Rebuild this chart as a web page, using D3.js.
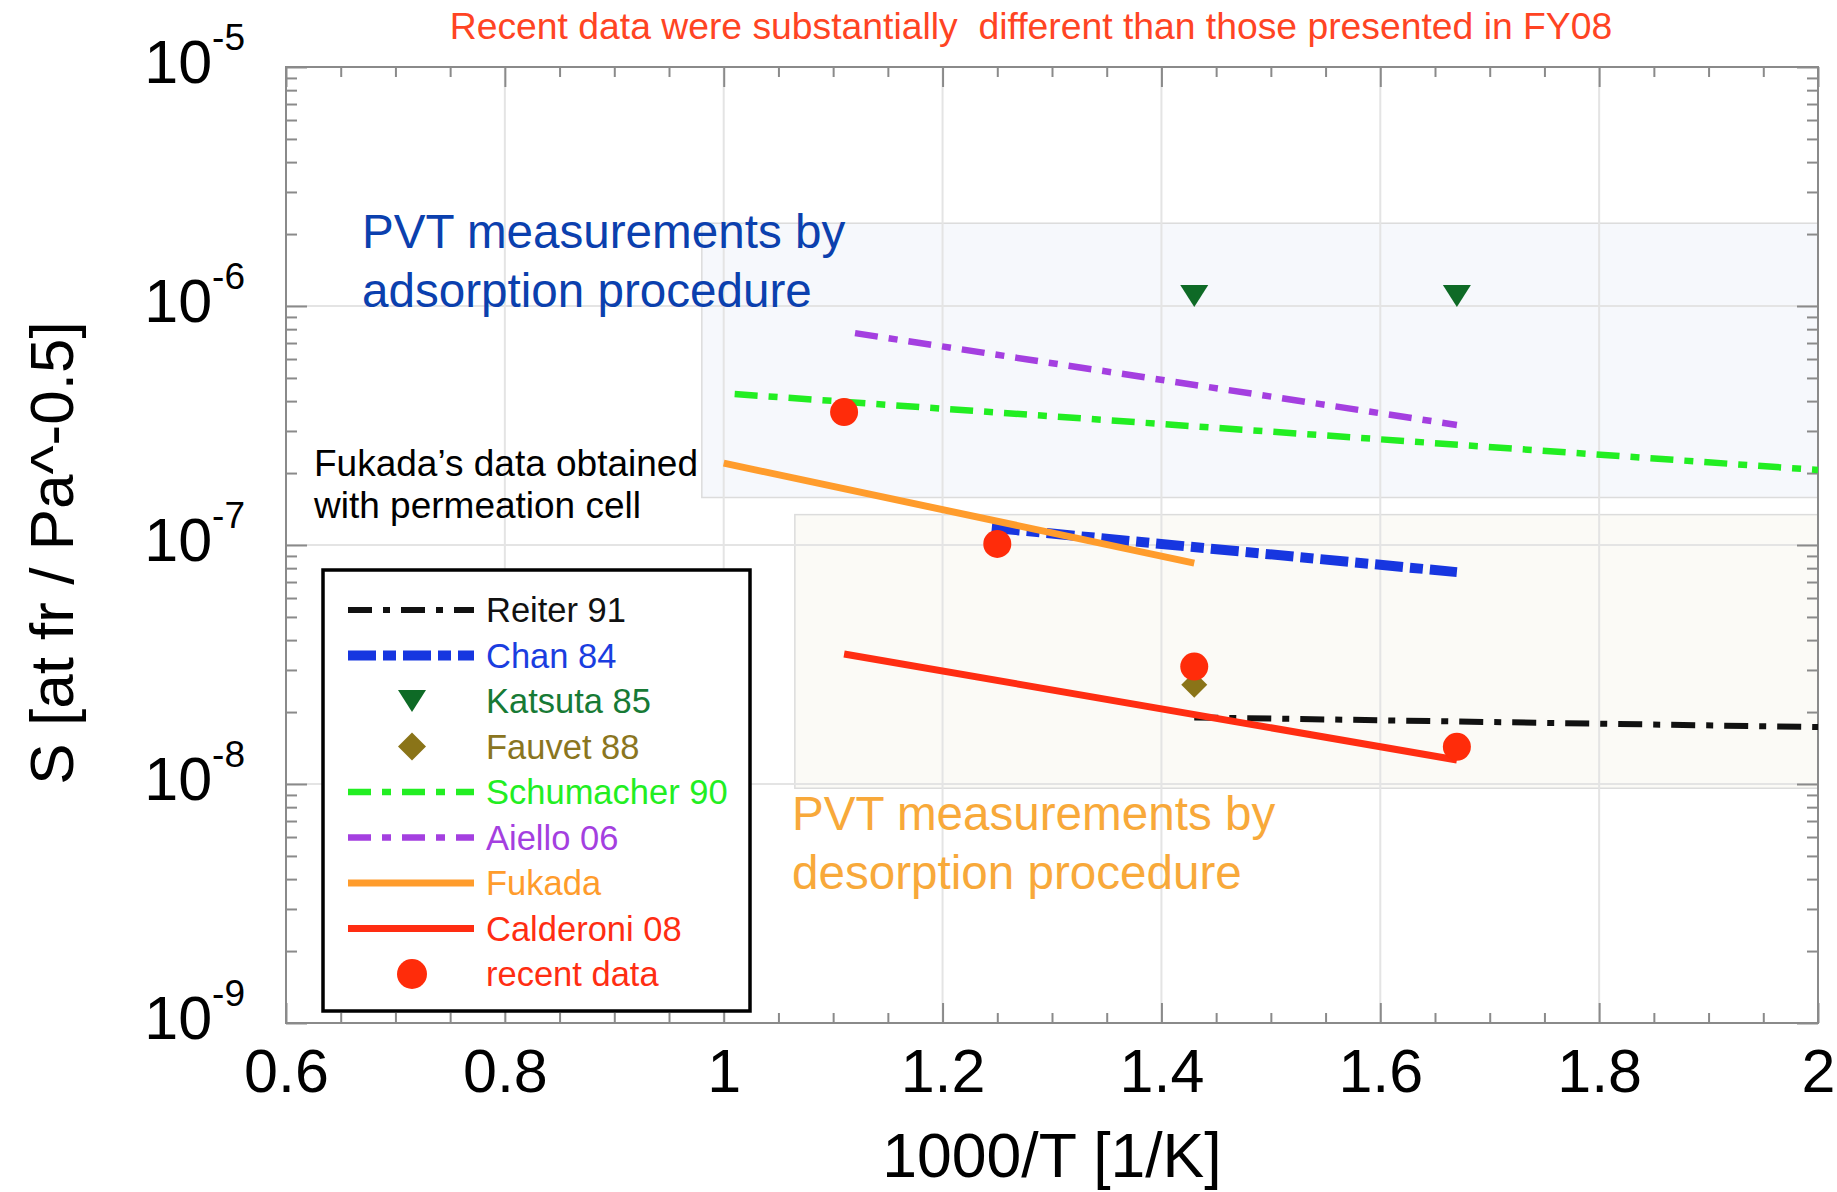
<!DOCTYPE html>
<html>
<head>
<meta charset="utf-8">
<script src="https://cdn.jsdelivr.net/npm/d3@7"></script>
<style>
html, body { margin: 0; padding: 0; background: #fff; }
svg { display: block; font-family: "Liberation Sans", Arial, Helvetica, sans-serif; }
</style>
</head>
<body>
<svg id="chart" width="1837" height="1192"></svg>
<script>
// axis ticks
const xTickValues = [0.6, 0.8, 1, 1.2, 1.4, 1.6, 1.8, 2];
const xTickLabels = ['0.6', '0.8', '1', '1.2', '1.4', '1.6', '1.8', '2'];
const yDecades = [-9, -8, -7, -6, -5];

// series (x = 1000/T, y = S)
const reiterX = [1.43, 2.0];
const reiterY = [1.9e-8, 1.73e-8];
const chanX = [1.245, 1.67];
const chanY = [1.18e-7, 7.7e-8];
const katsutaX = [1.43, 1.67];
const katsutaY = [1.1e-6, 1.1e-6];
const fauvetX = [1.43];
const fauvetY = [2.6e-8];
const schumacherX = [1.01, 2.0];
const schumacherY = [4.28e-7, 2.06e-7];
const aielloX = [1.12, 1.67];
const aielloY = [7.7e-7, 3.18e-7];
const fukadaX = [1.0, 1.43];
const fukadaY = [2.2e-7, 8.4e-8];
const calderoniX = [1.11, 1.67];
const calderoniY = [3.5e-8, 1.26e-8];
const recentX = [1.11, 1.25, 1.43, 1.67];
const recentY = [3.6e-7, 1.01e-7, 3.1e-8, 1.43e-8];

// shaded regions
const adsorptionBandX = [0.98, 2.0];
const adsorptionBandY = [1.58e-7, 2.22e-6];
const desorptionBandX = [1.065, 2.0];
const desorptionBandY = [9.6e-9, 1.34e-7];

const legendNames = ['Reiter 91', 'Chan 84', 'Katsuta 85', 'Fauvet 88', 'Schumacher 90',
    'Aiello 06', 'Fukada', 'Calderoni 08', 'recent data'];

const styles = {
    'Reiter 91': { kind: 'line', stroke: '#111111', text: '#111111', width: 6, dash: '24,11,7,11' },
    'Chan 84': { kind: 'line', stroke: '#1736e0', text: '#1a3de0', width: 10, dash: '28,7,13,7' },
    'Katsuta 85': { kind: 'tri', stroke: '#0e6a26', text: '#177a35' },
    'Fauvet 88': { kind: 'diamond', stroke: '#8a7418', text: '#8a7520' },
    'Schumacher 90': { kind: 'line', stroke: '#22ee22', text: '#22ee22', width: 6.5, dash: '23,11,9,11' },
    'Aiello 06': { kind: 'line', stroke: '#a43fe0', text: '#a43fe0', width: 6.5, dash: '23,11,9,11' },
    'Fukada': { kind: 'line', stroke: '#ff9c2c', text: '#ff9c2c', width: 7, dash: null },
    'Calderoni 08': { kind: 'line', stroke: '#ff2d12', text: '#ff2d12', width: 7, dash: null },
    'recent data': { kind: 'dot', stroke: '#ff2c0a', text: '#ff2d12' },
};

const plotLeft = 286, plotRight = 1818, plotTop = 67, plotBottom = 1023;
const frameColor = '#8a8a8a';

const svg = d3.select('#chart');

const x = d3.scaleLinear().domain([0.6, 2]).range([plotLeft, plotRight]);
const y = d3.scaleLog().domain([1e-9, 1e-5]).range([plotBottom, plotTop]);

svg.append('rect')
.attr('width', 1837).attr('height', 1192).attr('fill', '#fff');

// bands
function band(bx, by, fill) {
    svg.append('rect')
    .attr('x', x(bx[0]))
    .attr('y', y(by[1]))
    .attr('width', x(bx[1]) - x(bx[0]))
    .attr('height', y(by[0]) - y(by[1]))
    .attr('fill', fill)
    .attr('stroke', '#dcdcdc')
    .attr('stroke-width', 1.5);
}
band(adsorptionBandX, adsorptionBandY, '#f6f8fc');
band(desorptionBandX, desorptionBandY, '#fbfaf6');

// grid
const grid = svg.append('g').attr('stroke', '#e4e4e4').attr('stroke-width', 2);
grid.selectAll('.vx')
.data(xTickValues.slice(1, -1))
.enter().append('line')
.attr('x1', d => x(d)).attr('x2', d => x(d))
.attr('y1', plotTop).attr('y2', plotBottom);
grid.selectAll('.hy')
.data(yDecades.slice(1, -1).map(e => Math.pow(10, e)))
.enter().append('line')
.attr('y1', d => y(d)).attr('y2', d => y(d))
.attr('x1', plotLeft).attr('x2', plotRight);

// ticks
const xMinor = d3.range(0.65, 2, 0.05).filter(v => Math.abs(v * 5 - Math.round(v * 5)) > 1e-6);
const yMajor = yDecades.map(e => Math.pow(10, e));
const yMinor = [];
yDecades.slice(0, -1).forEach(e => {
    for (let k = 2; k <= 9; k++) yMinor.push(k * Math.pow(10, e));
});

function styleAxis(g) {
    g.select('.domain').remove();
    g.selectAll('.tick line').attr('stroke', frameColor).attr('stroke-width', 2);
}

svg.append('g').attr('transform', `translate(0,${plotBottom})`)
.call(d3.axisBottom(x).tickValues(xTickValues).tickSize(-20).tickSizeOuter(0).tickPadding(26)
    .tickFormat((d, i) => xTickLabels[i]))
.call(styleAxis)
.call(g => g.selectAll('text').attr('fill', '#000').style('font-size', '61px')
    .style('font-family', '"Liberation Sans", Arial, sans-serif'));
svg.append('g').attr('transform', `translate(0,${plotBottom})`)
.call(d3.axisBottom(x).tickValues(xMinor).tickSize(-10).tickFormat(''))
.call(styleAxis);
svg.append('g').attr('transform', `translate(0,${plotTop})`)
.call(d3.axisTop(x).tickValues(xTickValues).tickSize(-20).tickFormat(''))
.call(styleAxis);
svg.append('g').attr('transform', `translate(0,${plotTop})`)
.call(d3.axisTop(x).tickValues(xMinor).tickSize(-10).tickFormat(''))
.call(styleAxis);

const yAxisLeft = svg.append('g').attr('transform', `translate(${plotLeft},0)`)
.call(d3.axisLeft(y).tickValues(yMajor).tickSize(-21).tickFormat(''))
.call(styleAxis);
svg.append('g').attr('transform', `translate(${plotLeft},0)`)
.call(d3.axisLeft(y).tickValues(yMinor).tickSize(-11).tickFormat(''))
.call(styleAxis);
svg.append('g').attr('transform', `translate(${plotRight},0)`)
.call(d3.axisRight(y).tickValues(yMajor).tickSize(-21).tickFormat(''))
.call(styleAxis);
svg.append('g').attr('transform', `translate(${plotRight},0)`)
.call(d3.axisRight(y).tickValues(yMinor).tickSize(-11).tickFormat(''))
.call(styleAxis);

// y tick labels 10^n
yAxisLeft.selectAll('.tick').each(function (d) {
    const t = d3.select(this).append('text')
    .attr('x', -41).attr('y', 15)
    .attr('text-anchor', 'end')
    .attr('fill', '#000');
    t.append('tspan').style('font-size', '61px').text('10');
    t.append('tspan').attr('dy', -33).style('font-size', '37px')
    .text(String(Math.round(Math.log10(d))));
});

// frame
svg.append('rect')
.attr('x', plotLeft).attr('y', plotTop)
.attr('width', plotRight - plotLeft).attr('height', plotBottom - plotTop)
.attr('fill', 'none').attr('stroke', frameColor).attr('stroke-width', 2);

// series
const plot = svg.append('g');
const line = d3.line().x(d => x(d[0])).y(d => y(d[1]));

function drawLine(name, xs, ys) {
    const s = styles[name];
    plot.append('path')
    .datum(d3.zip(xs, ys))
    .attr('d', line)
    .attr('fill', 'none')
    .attr('stroke', s.stroke)
    .attr('stroke-width', s.width)
    .attr('stroke-dasharray', s.dash);
}
drawLine('Reiter 91', reiterX, reiterY);
drawLine('Chan 84', chanX, chanY);
drawLine('Schumacher 90', schumacherX, schumacherY);
drawLine('Aiello 06', aielloX, aielloY);
drawLine('Fukada', fukadaX, fukadaY);
drawLine('Calderoni 08', calderoniX, calderoniY);

const triPath = 'M-14,-11L14,-11L0,11Z';
const diamondPath = 'M0,-13L13,0L0,13L-13,0Z';

plot.selectAll('.katsuta')
.data(d3.zip(katsutaX, katsutaY))
.enter().append('path')
.attr('d', triPath)
.attr('transform', d => `translate(${x(d[0])},${y(d[1])})`)
.attr('fill', styles['Katsuta 85'].stroke);

plot.selectAll('.fauvet')
.data(d3.zip(fauvetX, fauvetY))
.enter().append('path')
.attr('d', diamondPath)
.attr('transform', d => `translate(${x(d[0])},${y(d[1])})`)
.attr('fill', styles['Fauvet 88'].stroke);

plot.selectAll('.recent')
.data(d3.zip(recentX, recentY))
.enter().append('circle')
.attr('cx', d => x(d[0]))
.attr('cy', d => y(d[1]))
.attr('r', 14)
.attr('fill', styles['recent data'].stroke);

// annotations
svg.append('text')
.attr('x', 1031).attr('y', 39)
.attr('text-anchor', 'middle')
.style('white-space', 'pre')
.style('font-size', '37.3px')
.attr('fill', '#ff4423')
.text('Recent data were substantially  different than those presented in FY08');

function multiline(lines, x0, y0, dy, size, color) {
    const t = svg.append('text').attr('fill', color).style('font-size', size + 'px');
    lines.forEach((l, i) => t.append('tspan').attr('x', x0).attr('y', y0 + i * dy).text(l));
}
multiline(['PVT measurements by', 'adsorption procedure'], 362, 248, 59, 47.6, '#0b40ae');
multiline(['PVT measurements by', 'desorption procedure'], 792, 830, 59, 47.6, '#f8a93a');
multiline(['Fukada\u2019s data obtained', 'with permeation cell'], 314, 476, 42, 37, '#000');

// axis titles
svg.append('text')
.attr('x', (plotLeft + plotRight) / 2).attr('y', 1177)
.attr('text-anchor', 'middle')
.style('font-size', '62.5px')
.attr('fill', '#000')
.text('1000/T [1/K]');

svg.append('text')
.attr('transform', 'translate(73,553) rotate(-90)')
.attr('text-anchor', 'middle')
.style('font-size', '62px')
.attr('fill', '#000')
.text('S [at fr / Pa^-0.5]');

// legend
const legend = svg.append('g');
legend.append('rect')
.attr('x', 323).attr('y', 570)
.attr('width', 427).attr('height', 441)
.attr('fill', '#fff').attr('stroke', '#000').attr('stroke-width', 3.5);

legendNames.forEach((name, i) => {
    const s = styles[name];
    const cy = 610 + i * 45.5;
    const g = legend.append('g');
    if (s.kind === 'line') {
        g.append('line')
        .attr('x1', 348).attr('x2', 474)
        .attr('y1', cy).attr('y2', cy)
        .attr('stroke', s.stroke)
        .attr('stroke-width', s.width)
        .attr('stroke-dasharray', s.dash);
    } else if (s.kind === 'tri') {
        g.append('path').attr('d', triPath)
        .attr('transform', `translate(412,${cy})`).attr('fill', s.stroke);
    } else if (s.kind === 'diamond') {
        g.append('path').attr('d', 'M0,-14L14,0L0,14L-14,0Z')
        .attr('transform', `translate(412,${cy})`).attr('fill', s.stroke);
    } else {
        g.append('circle').attr('cx', 412).attr('cy', cy).attr('r', 15).attr('fill', s.stroke);
    }
    g.append('text')
    .attr('x', 486).attr('y', cy + 12)
    .style('font-size', '34.5px')
    .attr('fill', s.text)
    .text(name);
});
</script>
</body>
</html>
